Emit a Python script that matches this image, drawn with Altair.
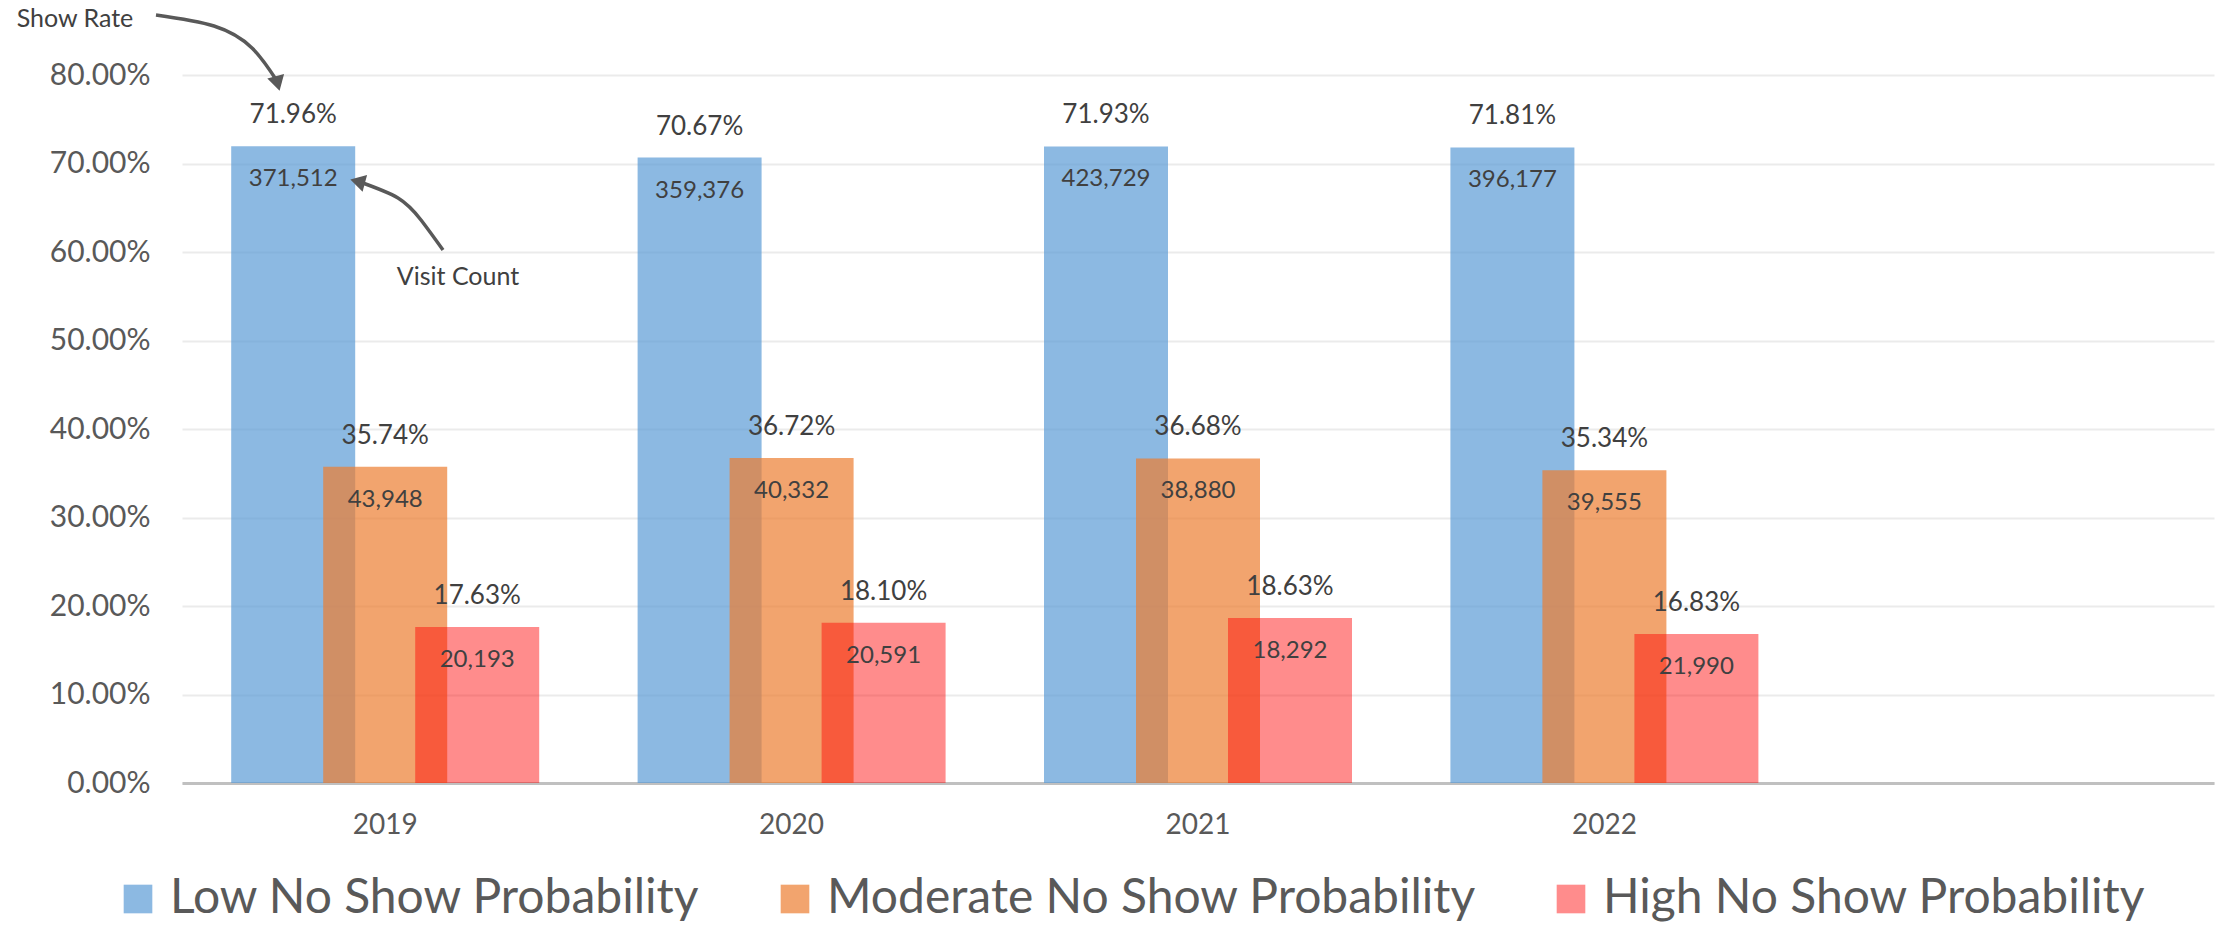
import altair as alt
import pandas as pd

FONT = "Lato"
TEXT_DARK = "#404040"
AXIS_GREY = "#595959"

# ---- data -------------------------------------------------------------
years = ["2019", "2020", "2021", "2022"]
series = ["Low No Show Probability", "Moderate No Show Probability", "High No Show Probability"]

low_rate = [0.7196, 0.7067, 0.7193, 0.7181]
mod_rate = [0.3574, 0.3672, 0.3668, 0.3534]
high_rate = [0.1763, 0.1810, 0.1863, 0.1683]

low_count = [371512, 359376, 423729, 396177]
mod_count = [43948, 40332, 38880, 39555]
high_count = [20193, 20591, 18292, 21990]

# callout arrows, in canvas pixels
show_arrow_x = [156, 214, 252, 277]
show_arrow_y = [15, 26, 48, 81]
visit_arrow_x = [443, 421, 398, 360]
visit_arrow_y = [250, 220, 198, 182]
head_x = [277, 360]
head_y = [81, 182]
head_angle = [165, 285]
note_text = ["Show Rate", "Visit Count"]
note_x = [75, 458]
note_y = [19, 277]

# ---- layout -----------------------------------------------------------
PLOT_LEFT, PLOT_TOP = 182, 75
PLOT_W, PLOT_H = 2032, 708
BAR_W = 124
STEP = 92

colors = ["rgba(91,155,213,0.7)", "rgba(237,125,49,0.7)", "rgba(255,0,0,0.45)"]

rows = []
for s, rates, counts in zip(series, [low_rate, mod_rate, high_rate], [low_count, mod_count, high_count]):
    for y, r, c in zip(years, rates, counts):
        rows.append({"year": y, "series": s, "rate": r, "count": c})
df = pd.DataFrame(rows)

x_enc = alt.X(
    "year:N",
    scale=alt.Scale(domain=years + [" "], paddingInner=0, paddingOuter=0),
    axis=alt.Axis(title=None, labelAngle=0, ticks=False, tickSize=0, labelPadding=42,
                  labelBaseline="middle", labelFontSize=28, labelFont=FONT, labelColor=AXIS_GREY,
                  domainColor="#C0C0C0", domainWidth=3, grid=False),
)
y_enc = alt.Y(
    "rate:Q",
    scale=alt.Scale(domain=[0, 0.8], nice=False),
    axis=alt.Axis(title=None, format=".2%", values=[i / 10 for i in range(9)], ticks=False,
                  tickSize=0, domain=False, labelPadding=32, labelFontSize=30, labelFont=FONT,
                  labelColor=AXIS_GREY, gridColor="#EBEBEB", gridWidth=2),
)
color_enc = alt.Color(
    "series:N",
    scale=alt.Scale(domain=series, range=colors),
    legend=alt.Legend(title=None, orient="none", direction="horizontal", legendX=-68, legendY=800,
                      symbolType="square", symbolSize=820, symbolStrokeWidth=0,
                      labelFontSize=48, labelFont=FONT, labelColor=AXIS_GREY, labelOffset=8,
                      labelLimit=1000, columnPadding=70),
)

bar_layers, text_layers = [], []
for idx, name in enumerate(series):
    off = (idx - 1) * STEP
    base = alt.Chart(df).transform_filter(alt.datum.series == name)
    bar_layers.append(base.mark_bar(width=BAR_W, xOffset=off).encode(x=x_enc, y=y_enc, color=color_enc))
    text_layers.append(
        base.mark_text(xOffset=off, dy=-31, baseline="middle", fontSize=26, font=FONT, color=TEXT_DARK)
        .encode(x=x_enc, y=y_enc, text=alt.Text("rate:Q", format=".2%"))
    )
    text_layers.append(
        base.mark_text(xOffset=off, dy=33, baseline="middle", fontSize=24, font=FONT, color=TEXT_DARK)
        .encode(x=x_enc, y=y_enc, text=alt.Text("count:Q", format=","))
    )

# ---- callouts (pixel space) -------------------------------------------
arrow_rows = []
for k, (xs, ys) in enumerate([(show_arrow_x, show_arrow_y), (visit_arrow_x, visit_arrow_y)]):
    for i, (px, py) in enumerate(zip(xs, ys)):
        arrow_rows.append({"arrow": k, "i": i, "px": px, "py": py})
arrows_df = pd.DataFrame(arrow_rows)
heads_df = pd.DataFrame({"px": head_x, "py": head_y, "angle": head_angle})
notes_df = pd.DataFrame({"px": note_x, "py": note_y, "label": note_text})

px_enc = alt.X("px:Q", scale=alt.Scale(domain=[PLOT_LEFT, PLOT_LEFT + PLOT_W], nice=False, zero=False), axis=None)
py_enc = alt.Y("py:Q", scale=alt.Scale(domain=[PLOT_TOP, PLOT_TOP + PLOT_H], nice=False, zero=False, reverse=True), axis=None)

arrow_lines = alt.Chart(arrows_df).mark_line(
    interpolate="natural", color=AXIS_GREY, strokeWidth=3.5
).encode(x=px_enc, y=py_enc, detail="arrow:N", order="i:Q")
arrow_heads = alt.Chart(heads_df).mark_point(
    shape="triangle", filled=True, size=300, color=AXIS_GREY, opacity=1
).encode(x=px_enc, y=py_enc, angle=alt.Angle("angle:Q", scale=None))
notes = alt.Chart(notes_df).mark_text(
    fontSize=25, font=FONT, color=TEXT_DARK, baseline="middle", align="center"
).encode(x=px_enc, y=py_enc, text="label:N")

annotations = alt.layer(arrow_lines, arrow_heads, notes)

data_layers = alt.layer(*bar_layers, *text_layers)

chart = (
    alt.layer(data_layers, annotations)
    .resolve_scale(x="independent", y="independent")
    .properties(
        width=PLOT_W,
        height=PLOT_H,
        padding={"left": PLOT_LEFT, "top": PLOT_TOP, "right": 2, "bottom": 144},
        autosize=alt.AutoSizeParams(type="none"),
        background="white",
    )
    .configure_view(stroke=None)
)

chart.save("out.html", embed_options={"renderer": "svg", "actions": False})
